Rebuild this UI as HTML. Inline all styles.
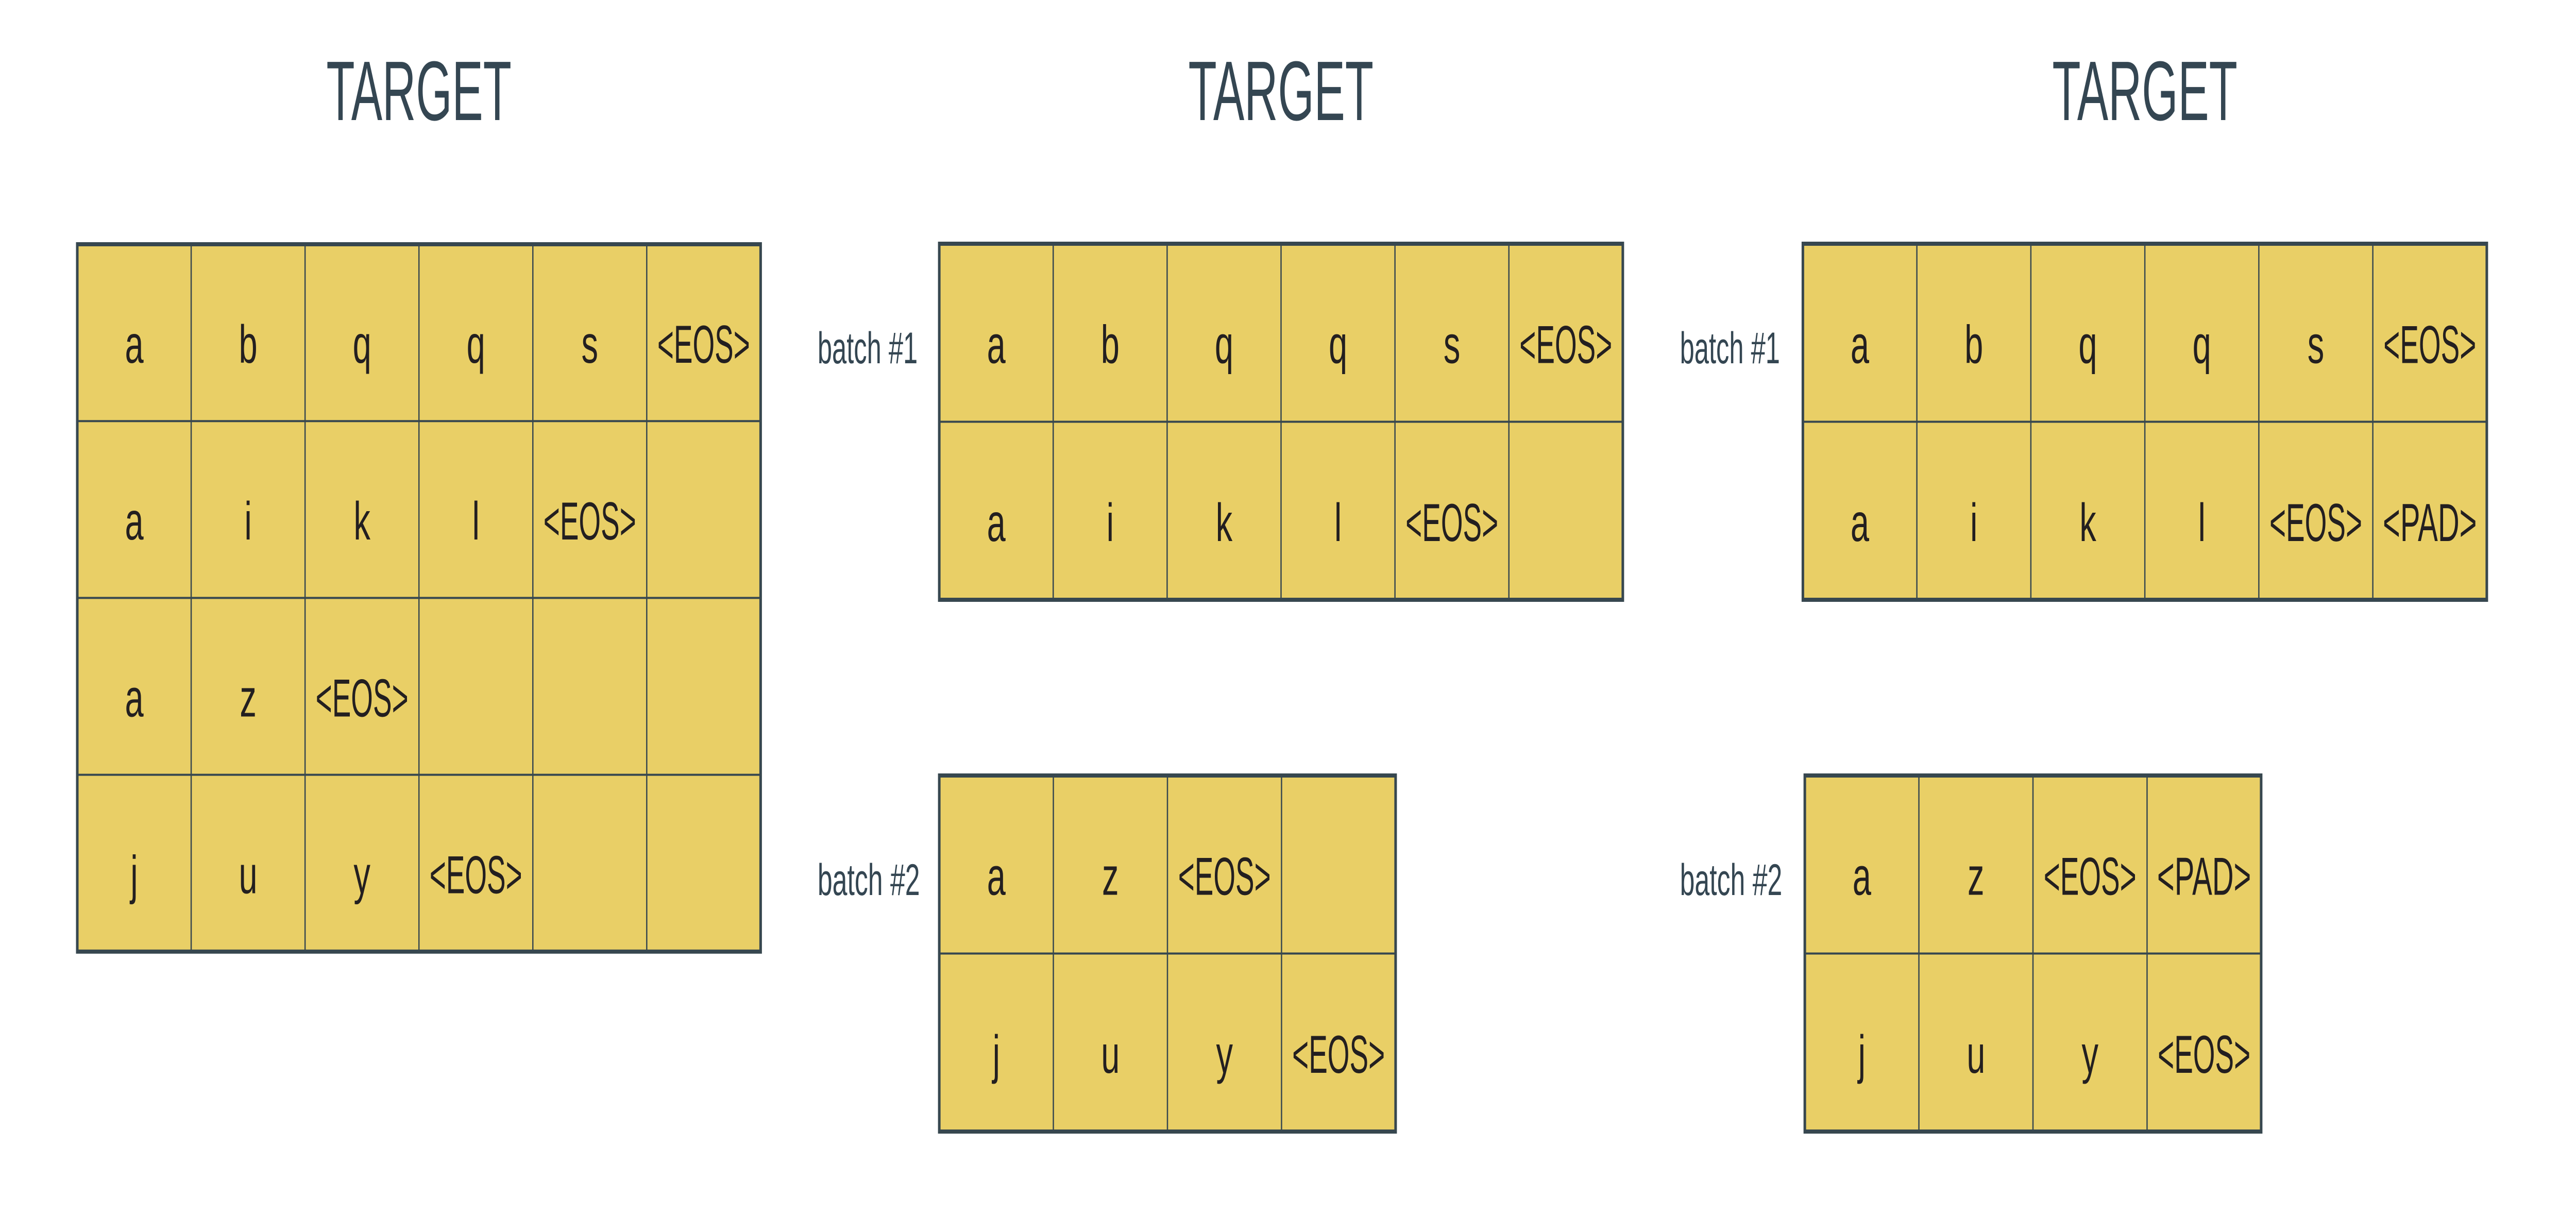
<!DOCTYPE html>
<html><head><meta charset="utf-8"><style>
html,body{margin:0;padding:0;background:#fff;width:100%;height:100%;overflow:hidden;}
svg{display:block;position:absolute;left:0;top:0;width:100vw;height:100vh;}
</style></head><body>
<svg id="fig" xmlns="http://www.w3.org/2000/svg" viewBox="0 0 8000 2356" preserveAspectRatio="none">
<rect width="8000" height="2356" fill="#ffffff"/>
</svg>
<script>
const titles = ["TARGET","TARGET","TARGET"];
const titleX = [1301, 3978, 6661];
const fullRows = [["a","b","q","q","s","<EOS>"],["a","i","k","l","<EOS>",""],["a","z","<EOS>","","",""],["j","u","y","<EOS>","",""]];
const batch1Rows = [["a","b","q","q","s","<EOS>"],["a","i","k","l","<EOS>",""]];
const batch2Rows = [["a","z","<EOS>",""],["j","u","y","<EOS>"]];
const pad1Rows = [["a","b","q","q","s","<EOS>"],["a","i","k","l","<EOS>","<PAD>"]];
const pad2Rows = [["a","z","<EOS>","<PAD>"],["j","u","y","<EOS>"]];
const batchLabels = ["batch #1","batch #2"];

const NS="http://www.w3.org/2000/svg";
const svg=document.getElementById('fig');
const FILL="#E9CF66", LINE="#37474F", TXT="#231F20", LBL="#344652";
function mk(tag, attrs, parent){const e=document.createElementNS(NS,tag);for(const k in attrs)e.setAttribute(k,attrs[k]);(parent||svg).appendChild(e);return e;}

function grid(rows, x0, y0, cw, rh, name){
  const g=mk('g',{});
  
  
  const nr=rows.length, nc=rows[0].length;
  const W=cw*nc, H=rh*nr;
  mk('rect',{x:x0,y:y0,width:W,height:H,fill:FILL},g);
  for(let c=1;c<nc;c++) mk('line',{x1:x0+c*cw,y1:y0,x2:x0+c*cw,y2:y0+H,stroke:LINE,'stroke-width':4},g);
  for(let r=1;r<nr;r++) mk('line',{x1:x0,y1:y0+r*rh,x2:x0+W,y2:y0+r*rh,stroke:LINE,'stroke-width':4},g);
  mk('rect',{x:x0,y:y0,width:W,height:H,fill:'none',stroke:LINE,'stroke-width':8},g);
  rows.forEach((row,r)=>row.forEach((t,c)=>{
    if(!t) return;
    const a={x:x0+c*cw+cw/2,y:y0+r*rh+rh*0.67,'text-anchor':'middle','font-family':'"Liberation Sans", sans-serif','font-size':104,fill:TXT};
    if(t.length>1){a.textLength=t==="<PAD>"?292:288;a.lengthAdjust='spacingAndGlyphs';}
    const el=mk('text',a,g);
    
    
    el.textContent=t;
  }));
}

titles.forEach((t,i)=>{
  const el=mk('text',{x:titleX[i],y:233,'text-anchor':'middle','font-family':'"Liberation Sans", sans-serif','font-size':164,fill:LBL,textLength:575,lengthAdjust:'spacingAndGlyphs'});
  
  
  el.textContent=t;
});

grid(fullRows, 240, 474, 353.7, 343.2, 'full-target-grid');
grid(batch1Rows, 2917, 473, 353.8, 345.5, 'batch1-grid');
grid(batch2Rows, 2917, 1505, 354.3, 345.5, 'batch2-grid');
grid(pad1Rows, 5599, 473, 354, 345.5, 'padded-batch1-grid');
grid(pad2Rows, 5605, 1505, 354.3, 345.5, 'padded-batch2-grid');

[[2539,705],[2539,1737],[5217,705],[5217,1737]].forEach((p,i)=>{
  const el=mk('text',{x:p[0],y:p[1],'font-family':'"Liberation Sans", sans-serif','font-size':86,fill:LBL,textLength:i%2?318:311,lengthAdjust:'spacingAndGlyphs'});
  
  
  el.textContent=batchLabels[i%2];
});
</script>
</body></html>
